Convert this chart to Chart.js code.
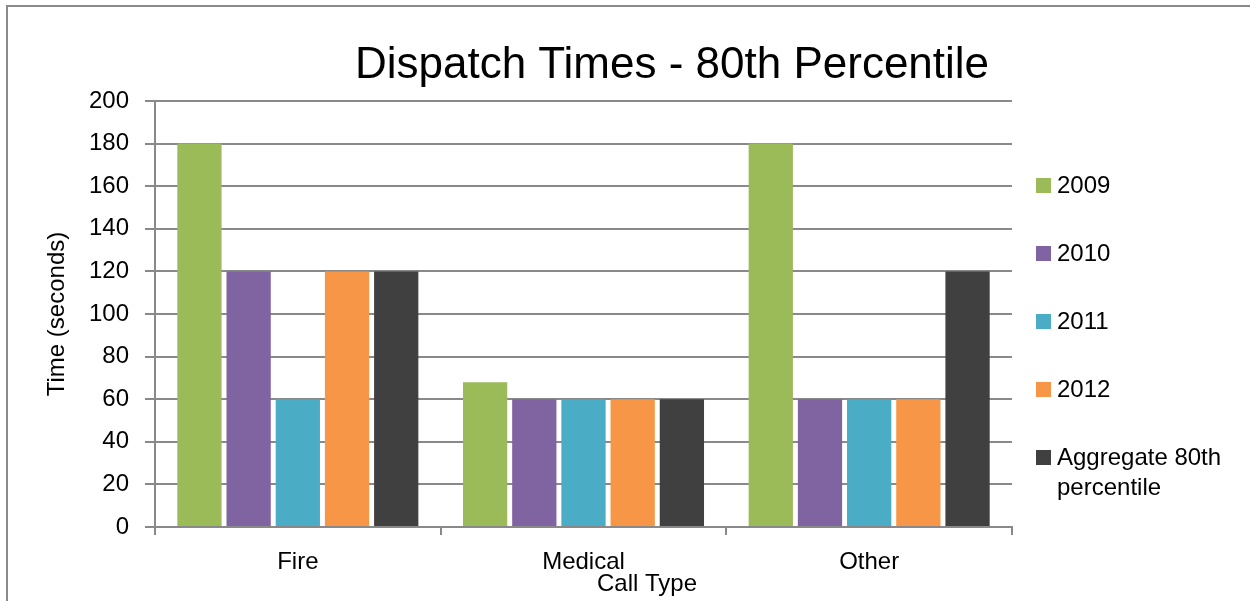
<!DOCTYPE html>
<html>
<head>
<meta charset="utf-8">
<title>Dispatch Times - 80th Percentile</title>
<script src="https://cdn.jsdelivr.net/npm/chart.js@4/dist/chart.umd.min.js"></script>
<style>
  html, body { margin: 0; padding: 0; background: #fff; overflow: hidden; }
  #wrap { width: 1250px; height: 601px; }
</style>
</head>
<body>
<div id="wrap"><canvas id="c" width="1250" height="601"></canvas></div>
<script>
// ---- data ----
const categories = ['Fire', 'Medical', 'Other'];
const seriesNames = ['2009', '2010', '2011', '2012', 'Aggregate 80th percentile'];
const values2009 = [180, 68, 180];
const values2010 = [120, 60, 60];
const values2011 = [60, 60, 60];
const values2012 = [120, 60, 60];
const valuesAggregate = [120, 60, 120];
const yTickMin = 0;
const yTickMax = 200;
const yTickStep = 20;
const chartTitle = 'Dispatch Times - 80th Percentile';
const xAxisTitle = 'Call Type';
const yAxisTitle = 'Time (seconds)';

// ---- styling ----
const seriesColors = ['#9BBB59', '#8064A2', '#4BACC6', '#F79646', '#404040'];
const FONT = "'Liberation Sans', Arial, sans-serif";
const GRID = '#898989';

const seriesValues = [values2009, values2010, values2011, values2012, valuesAggregate];
const datasets = seriesNames.map((name, i) => ({
  label: name,
  data: seriesValues[i],
  backgroundColor: seriesColors[i],
  borderWidth: 0,
  categoryPercentage: 0.861,
  barPercentage: 0.9
}));

// wraps a legend label into lines no wider than maxWidth
function wrapText(ctx, text, maxWidth) {
  const words = text.split(' ');
  const lines = [];
  let line = '';
  for (const w of words) {
    const test = line ? line + ' ' + w : w;
    if (line && ctx.measureText(test).width > maxWidth) {
      lines.push(line);
      line = w;
    } else {
      line = test;
    }
  }
  if (line) lines.push(line);
  return lines;
}

// frame, title, category-axis title and the side legend
const decor = {
  id: 'decor',
  beforeDraw(chart) {
    const ctx = chart.ctx;
    ctx.save();
    ctx.fillStyle = '#fff';
    ctx.fillRect(0, 0, chart.width, chart.height);
    ctx.strokeStyle = '#8a8a8a';
    ctx.lineWidth = 2;
    ctx.strokeRect(7, 6, chart.width + 40, chart.height + 40);
    ctx.restore();
  },
  afterDraw(chart) {
    const ctx = chart.ctx;
    const a = chart.chartArea;
    ctx.save();
    ctx.fillStyle = '#000';
    ctx.textBaseline = 'alphabetic';

    ctx.font = `44px ${FONT}`;
    ctx.textAlign = 'center';
    ctx.fillText(chartTitle, a.left + 517, a.top - 23);

    ctx.font = `24px ${FONT}`;
    ctx.fillText(xAxisTitle, a.left + 492, a.bottom + 64);

    // legend
    ctx.textAlign = 'left';
    const boxX = a.right + 24;
    let baseline = a.top + 92;
    chart.data.datasets.forEach(ds => {
      ctx.fillStyle = ds.backgroundColor;
      ctx.fillRect(boxX, baseline - 15, 15, 15);
      ctx.fillStyle = '#000';
      const lines = wrapText(ctx, ds.label, 175);
      lines.forEach((ln, k) => ctx.fillText(ln, boxX + 21, baseline + k * 30));
      baseline += 68;
    });
    ctx.restore();
  }
};

new Chart(document.getElementById('c'), {
  type: 'bar',
  data: { labels: categories, datasets },
  plugins: [decor],
  options: {
    responsive: false,
    animation: false,
    devicePixelRatio: 1,
    layout: { padding: { left: 0, top: 101, right: 238, bottom: 0 } },
    plugins: {
      legend: { display: false },
      title: { display: false },
      tooltip: { enabled: false }
    },
    scales: {
      x: {
        offset: true,
        grid: {
          offset: true,
          drawOnChartArea: false,
          drawTicks: true,
          tickLength: 8,
          color: GRID,
          lineWidth: 2
        },
        border: { display: true, color: GRID, width: 2 },
        ticks: {
          color: '#000',
          font: { family: FONT, size: 24 },
          padding: 13,
          maxRotation: 0
        },
        afterFit(scale) { scale.height = 74; }
      },
      y: {
        min: yTickMin,
        max: yTickMax,
        ticks: {
          stepSize: yTickStep,
          color: '#000',
          font: { family: FONT, size: 24 },
          padding: 16
        },
        grid: {
          color: GRID,
          lineWidth: 2,
          drawTicks: true,
          tickLength: 10
        },
        border: { display: true, color: GRID, width: 2 },
        title: {
          display: true,
          text: yAxisTitle,
          color: '#000',
          font: { family: FONT, size: 24 },
          padding: { top: 43, bottom: 0 }
        },
        afterFit(scale) { scale.width = 155; }
      }
    }
  }
});
</script>
</body>
</html>
